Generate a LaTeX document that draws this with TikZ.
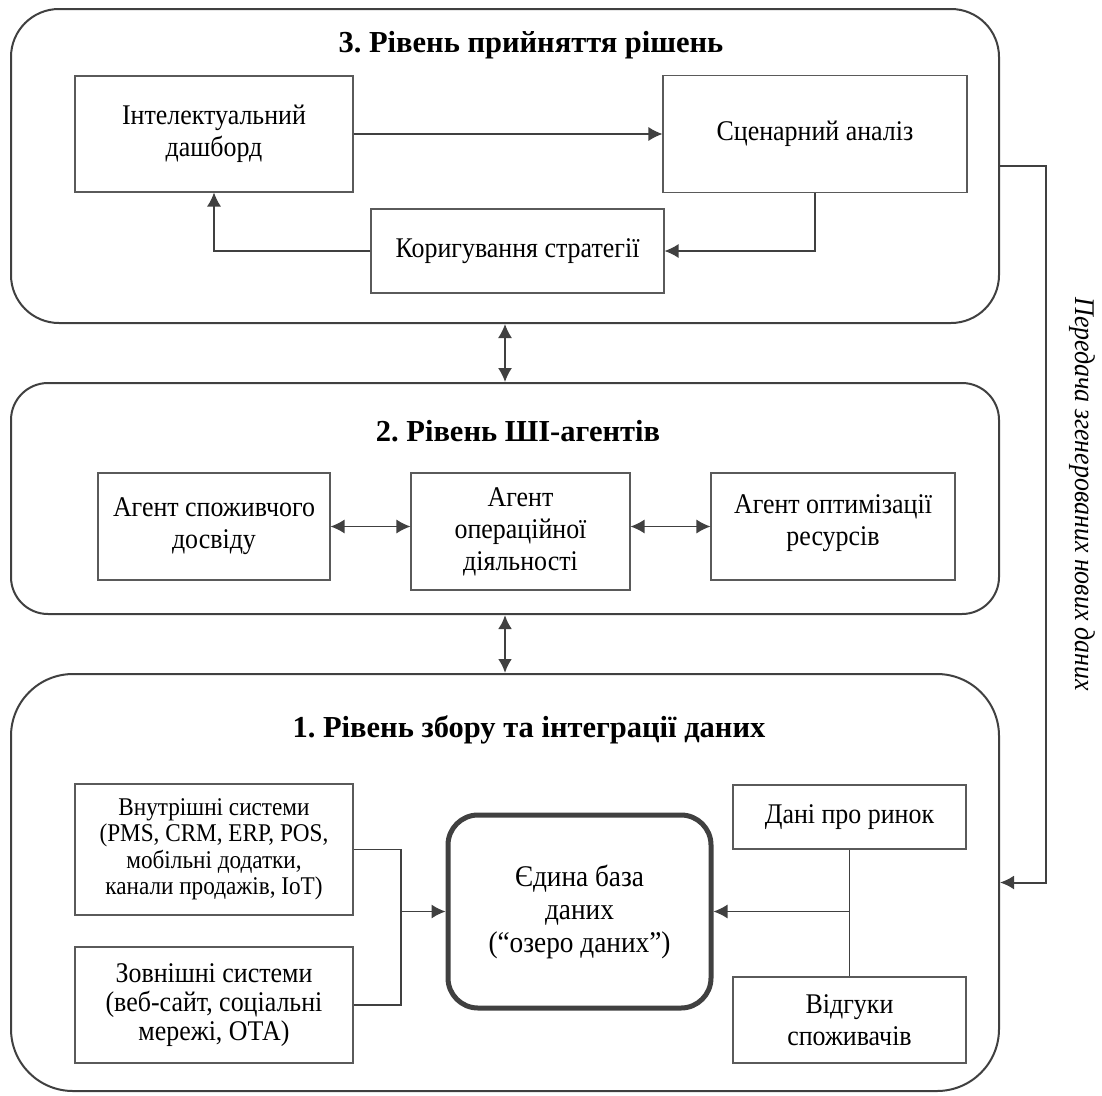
\documentclass[tikz,border=0pt]{standalone}
\usepackage{fontspec}
\setmainfont[FakeStretch=0.91]{Liberation Serif}
\newfontfamily\headfont{Liberation Serif}
\usetikzlibrary{positioning,arrows.meta}
\definecolor{edge}{HTML}{404040}
\definecolor{frame}{HTML}{5A5A5A}

\begin{document}
\frenchspacing
\begin{tikzpicture}[
    x=1pt, y=-1pt,
    >={Latex[length=14pt,width=14pt]},
    layer/.style={
        draw=edge,
        line width=2pt,
        minimum width=988pt
    },
    box/.style={
        draw=frame,
        line width=1.1pt,
        align=center,
        inner sep=0pt,
        font=\fontsize{28.5}{32}\selectfont
    },
    ttl/.style={anchor=base, font=\headfont\bfseries\fontsize{30.5}{36}\selectfont},
    link/.style={draw=edge, line width=1.2pt}
]
    \useasboundingbox (0,0) rectangle (1102,1095);

    % Рівні
    \node[layer, rounded corners=48pt, minimum height=314pt] (lay3) at (505,166) {};
    \node[layer, rounded corners=37pt, minimum height=231pt] (lay2) at (505,498.5) {};
    \node[layer, rounded corners=62pt, minimum height=417pt] (lay1) at (505,882.5) {};

    \node[ttl] (t3) at (531,52) {3. Рівень прийняття рішень};
    \node[ttl] (t2) at (518,441) {2. Рівень ШІ-агентів};
    \node[ttl] (t1) at (529,737) {1. Рівень збору та інтеграції даних};

    % Рівень 3
    \node[box, minimum width=278pt, minimum height=116pt] (dash) at (214,134) {Інтелектуальний\\дашборд};
    \node[box, minimum width=304pt, minimum height=117pt] (scen) at (815,134) {Сценарний аналіз};
    \node[box, minimum width=293pt, minimum height=84pt] (korig) at (517.5,251) {Коригування стратегії};

    % Рівень 2
    \node[box, minimum width=232pt, minimum height=107pt] (ag1) at (214,526.5) {Агент споживчого\\досвіду};
    \node[box, minimum width=219pt, minimum height=117pt] (ag2) at (520.5,531.5) {Агент\\операційної\\діяльності};
    \node[box, minimum width=244pt, minimum height=107pt, text depth=12pt] (ag3) at (833,526.5) {Агент оптимізації\\ресурсів};

    % Рівень 1
    \node[box, minimum width=278pt, minimum height=131pt, font=\fontsize{25.5}{26.5}\selectfont] (vnut) at (214,849.5)
        {Внутрішні системи\\(PMS, CRM, ERP, POS,\\мобільні додатки,\\канали продажів, IoT)};
    \node[box, minimum width=278pt, minimum height=116pt, font=\fontsize{28.5}{29}\selectfont] (zovn) at (214,1005)
        {Зовнішні системи\\(веб-сайт, соціальні\\мережі, ОТА)};
    \node[box, draw=edge, line width=5pt, rounded corners=30pt, minimum width=263pt, minimum height=193pt,
        font=\fontsize{30}{33}\selectfont] (edyna) at (579.5,911.5) {Єдина база\\даних\\(“озеро даних”)};
    \node[box, minimum width=233pt, minimum height=64pt] (dani) at (849.5,817) {Дані про ринок};
    \node[box, minimum width=233pt, minimum height=86pt] (vidg) at (849.5,1020) {Відгуки\\споживачів};

    \node[rotate=-90, font=\itshape\fontsize{28.5}{30}\selectfont] (lbl) at (1082,494) {Передача згенерованих нових даних};

    % Стрілки
    \draw[link, ->] (dash.east) -- (scen.west);
    \draw[link, ->] (scen.south) |- (korig.east);
    \draw[link, ->] (korig.west) -| (dash.south);

    \draw[link, line width=1.6pt, <->] (lay3.south) -- (lay2.north);
    \draw[link, line width=2.6pt, <->] (lay2.south) -- (lay1.north);

    \draw[link, <->] (ag1.east) -- (ag1.east -| ag2.west);
    \draw[link, <->] (ag2.east |- ag1.east) -- (ag1.east -| ag3.west);

    \coordinate (jl) at (401,911.5);
    \coordinate (jr) at (dani.south |- edyna.east);
    \draw[link] (vnut.east) -| (jl) |- (zovn.east);
    \draw[link, ->] (jl) -- (edyna.west);
    \draw[link] (dani.south) -- (vidg.north);
    \draw[link, ->] (jr) -- (edyna.east);

    \draw[link, line width=2pt, ->] (lay3.east) -- ++(46,0) |- (lay1.east);
\end{tikzpicture}
\end{document}
